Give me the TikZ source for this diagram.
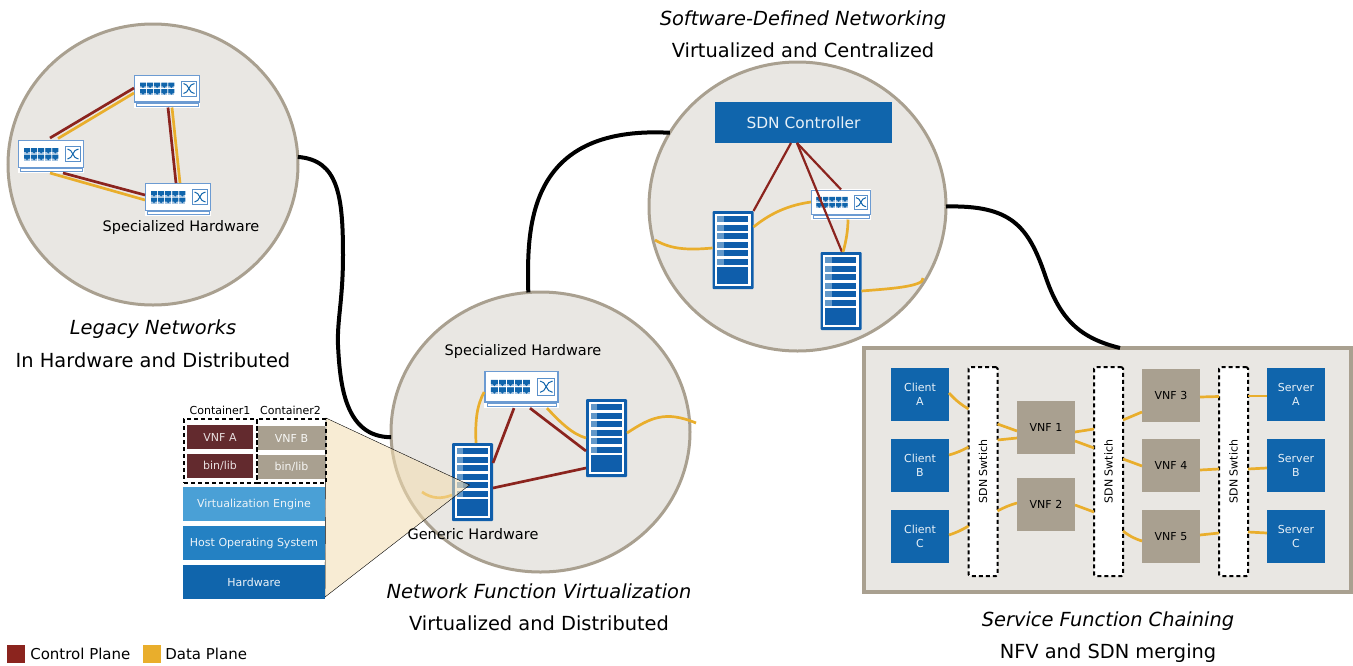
\documentclass[tikz,border=0pt]{standalone}
\usepackage{fontspec}
\setmainfont{DejaVu Sans}
\usetikzlibrary{arrows,shapes.geometric}
\definecolor{ctrlred}{HTML}{8B241E}
\definecolor{datagold}{HTML}{E9AE2C}
\definecolor{taupe}{HTML}{A9A090}
\definecolor{panel}{HTML}{E9E7E3}
\definecolor{hwblue}{HTML}{1065AC}
\definecolor{osblue}{HTML}{2481C3}
\definecolor{engblue}{HTML}{4AA0D6}
\definecolor{maroon}{HTML}{632A2E}
\definecolor{iconline}{HTML}{6C9BD2}
\definecolor{srvblue}{HTML}{0F5EAB}
\definecolor{srvlight}{HTML}{6298C9}
\definecolor{wedge}{HTML}{F3DDB0}
\newcommand{\switchicon}[4]{
  \node[switch,minimum width=#4*66pt,minimum height=#4*33pt] (#1) at (#2,#3) {};
  \begin{scope}[shift={(#2-33*#4,#3-16.5*#4)},scale=#4]
    \draw[iconline,fill=white,line width=1.2pt] (0.7,0.7) rectangle (65.3,27.5);
    \draw[iconline,fill=white,line width=1pt] (2.5,28.5) rectangle (64,31.5);
    \foreach \i in {0,...,4} {
      \fill[srvblue!35] (6+7.1*\i,8) rectangle +(6,5.8);
      \fill[srvblue!35] (6+7.1*\i,14.7) rectangle +(6,5.8);
      \fill[hwblue] (6+7.1*\i,8) -- +(6,0) -- +(6,3.8) -- +(4.5,3.8) -- +(3,5.6) -- +(1.5,3.8) -- +(0,3.8) -- cycle;
      \fill[hwblue] (6+7.1*\i,14.7) -- +(6,0) -- +(6,3.8) -- +(4.5,3.8) -- +(3,5.6) -- +(1.5,3.8) -- +(0,3.8) -- cycle;
    }
    \draw[iconline!80!hwblue,line width=1pt] (47.5,6.5) rectangle (62.5,21.5);
    \draw[hwblue,line width=1pt] (49.5,9) .. controls (55,9) and (54.5,19) .. (60.5,19);
    \draw[hwblue,line width=1pt] (49.5,19) .. controls (55,19) and (54.5,9) .. (60.5,9);
  \end{scope}
}
\newcommand{\servericon}[3]{
  \node[server] (#1) at (#2,#3) {};
  \begin{scope}[shift={(#2-20.5,#3-39)}]
    \fill[white] (2.7,2.7) rectangle (38.3,75.3);
    \foreach \i in {0,...,5} {
      \fill[srvblue] (4.7,5+8.55*\i) rectangle (35.9,11+8.55*\i);
      \fill[srvlight] (4.7,5+8.55*\i) rectangle (11,11+8.55*\i);
    }
    \fill[srvblue] (4.7,56.3) rectangle (35.9,73.3);
  \end{scope}
}
\begin{document}
\begin{tikzpicture}[x=1pt,y=-1pt,>=stealth',semithick]
  \tikzstyle{switch}=[rectangle,fill=white,inner sep=0pt,outer sep=0pt]
  \tikzstyle{server}=[rectangle,fill=srvblue,rounded corners=1pt,minimum width=41pt,
    minimum height=78pt,inner sep=0pt,outer sep=0pt]
  \tikzstyle{bubble}=[ellipse,draw=taupe,fill=panel,line width=3pt,inner sep=0pt,outer sep=0pt]
  \tikzstyle{curve}=[black,line width=4pt]
  \tikzstyle{ctrl}=[ctrlred,line width=2.7pt]
  \tikzstyle{plane}=[datagold,line width=2.7pt]
  \tikzstyle{box}=[rectangle,inner sep=0pt,outer sep=0pt,align=center,
    font=\fontsize{11}{14}\selectfont]
  \tikzstyle{client}=[box,fill=hwblue,text=white!90!hwblue,minimum width=58pt,minimum height=53pt]
  \tikzstyle{vnf}=[box,fill=taupe,text=black,minimum width=58pt,minimum height=53pt]
  \tikzstyle{sdnbar}=[rectangle,fill=white,draw=black,line width=2pt,dash pattern=on 4pt off 3pt,
    rounded corners=1.5pt,minimum width=29pt,minimum height=209pt,inner sep=0pt,outer sep=0pt]
  \tikzstyle{dock}=[rectangle,draw=black,line width=2pt,dash pattern=on 4pt off 3pt,
    minimum height=64pt,inner sep=0pt,outer sep=0pt]
  \tikzstyle{layer}=[box,text=white!92!hwblue,minimum width=142pt,minimum height=34pt,
    font=\fontsize{11}{13}\selectfont]
  \tikzstyle{title}=[inner sep=0pt,font=\fontsize{19.4}{24}\selectfont\itshape]
  \tikzstyle{subtitle}=[inner sep=0pt,font=\fontsize{19.4}{24}\selectfont]
  \tikzstyle{caption}=[inner sep=0pt,font=\fontsize{14.5}{18}\selectfont]
  \useasboundingbox (0,0) rectangle (1353,665);

  \node[bubble,minimum width=290pt,minimum height=281pt] (legacy) at (153,164.5) {};
  \node[bubble,minimum width=299pt,minimum height=280pt] (nfv) at (540.5,432) {};
  \node[bubble,minimum width=297pt,minimum height=289pt] (sdn) at (797.5,206.5) {};
  \node[rectangle,draw=taupe,fill=panel,line width=4pt,minimum width=487pt,minimum height=244pt,
    inner sep=0pt,outer sep=0pt] (sfc) at (1107.5,470) {};

  \draw[curve] (legacy.3) .. controls (338,160) and (343,195) .. (343,255)
    .. controls (343,300) and (337,320) .. (338,345)
    .. controls (340,385) and (345,437) .. (nfv.182);
  \draw[curve] (nfv.95) .. controls (527,230) and (525,125) .. (sdn.150);
  \draw[curve] (sdn.0) .. controls (1010,205) and (1028,225) .. (1045,275)
    .. controls (1060,320) and (1080,338) .. (sfc.north -| 1120,0);

  \switchicon{swA}{167}{91}{1}
  \switchicon{swB}{51}{156.5}{1}
  \switchicon{swC}{178}{199.5}{1}
  \draw[ctrl]
        (swA.west |- 0,88) edge (50,138)
        (swA.south -| 168,0) edge (swC.north -| 176,0)
        (swB.south -| 63,0) edge (swC.west |- 0,195);
  \draw[plane]
        (swA.west |- 0,93) edge (58,138.5)
        (swA.south -| 172,0) edge (swC.north -| 180,0)
        (swB.south -| 50,0) edge (swC.west |- 0,200);

  \switchicon{swN}{521.5}{389.5}{1.13}
  \servericon{srvL}{472.5}{482}
  \servericon{srvR}{606.5}{438}
  \coordinate (nfvout) at (696,423);
  \coordinate (nfvin) at (422,492);
  \draw[ctrl]
        (swN.south -| 514,0) edge (srvL.east |- 0,463)
        (swN.south -| 530,0) edge (srvR.west |- 0,451)
        (srvL.east |- 0,488) edge (srvR.west |- 0,468);
  \draw[plane] (srvL.north -| 476,0) .. controls (475,420) and (477,405) .. (swN.west |- 0,392);
  \draw[plane] (swN.south -| 547,0) .. controls (560,422) and (572,434) .. (srvR.west |- 0,438);
  \draw[plane] (srvR.east |- 0,433) .. controls (650,418) and (665,410) .. (nfvout);
  \draw[plane] (nfvin) .. controls (432,499) and (442,499) .. (srvL.west |- 0,495);

  \node[box,fill=hwblue,text=white!90!hwblue,minimum width=177pt,minimum height=41pt,
    font=\fontsize{15.4}{18}\selectfont] (ctrlbox) at (803.5,122.5) {SDN Controller};
  \switchicon{swS}{841}{204.5}{0.91}
  \servericon{srvP}{733}{250}
  \servericon{srvQ}{841}{291}
  \coordinate (sdnin) at (655,240);
  \coordinate (sdnout) at (923,278);
  \draw[ctrl,line width=2.2pt]
        (ctrlbox.south -| 791,0) edge (srvP.east |- 0,211)
        (ctrlbox.south -| 797,0) edge (srvQ.north -| 842,0)
        (ctrlbox.south -| 797,0) edge (swS.north -| 841,0);
  \draw[plane] (srvP.east |- 0,227) .. controls (772,212) and (790,205) .. (swS.west |- 0,202);
  \draw[plane] (sdnin) .. controls (672,250) and (690,250) .. (srvP.west |- 0,248);
  \draw[plane] (swS.south -| 848,0) .. controls (848,230) and (846,242) .. (srvQ.north -| 843,0);
  \draw[plane] (srvQ.east |- 0,291) .. controls (885,289) and (925,287) .. (sdnout);

  \coordinate (tip) at (469.5,485);
  \coordinate (stacktop) at (326,418);
  \coordinate (stackbot) at (325,597);
  \draw[black,thin,fill=wedge,fill opacity=0.55] (stacktop) -- (tip) -- (stackbot) -- cycle;

  \node[dock,minimum width=73pt] (dockA) at (220.5,451) {};
  \node[dock,minimum width=69pt] (dockB) at (291.5,451) {};
  \node[box,fill=maroon,text=white!85!maroon,minimum width=66pt,minimum height=24pt,
    font=\fontsize{11}{13}\selectfont] (vnfA) at (220,437) {VNF A};
  \node[box,fill=maroon,text=white!85!maroon,minimum width=66pt,minimum height=24pt,
    font=\fontsize{11}{13}\selectfont] (binA) at (220,466) {bin/lib};
  \node[box,fill=taupe,text=white!90!taupe,minimum width=67pt,minimum height=24pt,
    font=\fontsize{11}{13}\selectfont] (vnfB) at (291.5,438) {VNF B};
  \node[box,fill=taupe,text=white!90!taupe,minimum width=67pt,minimum height=24pt,
    font=\fontsize{11}{13}\selectfont] (binB) at (291.5,467) {bin/lib};
  \node[layer,fill=engblue] (engine) at (254,504) {Virtualization Engine};
  \node[layer,fill=osblue] (hostos) at (254,543) {Host Operating System};
  \node[layer,fill=hwblue] (metal) at (254,582) {Hardware};
  \node[inner sep=0pt,font=\fontsize{11}{13}\selectfont] (nameA) at (220,410) {Container1};
  \node[inner sep=0pt,font=\fontsize{11}{13}\selectfont] (nameB) at (290.5,410) {Container2};

  \node[client] (clientA) at (920,394.5) {Client\\A};
  \node[client] (clientB) at (920,465.5) {Client\\B};
  \node[client] (clientC) at (920,536.5) {Client\\C};
  \node[vnf] (vnf1) at (1046,427.5) {VNF 1};
  \node[vnf] (vnf2) at (1046,504.5) {VNF 2};
  \node[vnf] (vnf3) at (1171,395.5) {VNF 3};
  \node[vnf] (vnf4) at (1171,465.5) {VNF 4};
  \node[vnf] (vnf5) at (1171,536.5) {VNF 5};
  \node[client] (serverA) at (1296,394.5) {Server\\A};
  \node[client] (serverB) at (1296,465.5) {Server\\B};
  \node[client] (serverC) at (1296,536.5) {Server\\C};
  \node[sdnbar] (bar1) at (983,471.5) {};
  \node[sdnbar] (bar2) at (1108.5,471.5) {};
  \node[sdnbar] (bar3) at (1233.5,471.5) {};
  \node[box,rotate=90] (bar1text) at (bar1) {SDN Swtich};
  \node[box,rotate=90] (bar2text) at (bar2) {SDN Swtich};
  \node[box,rotate=90] (bar3text) at (bar3) {SDN Swtich};
  \draw[plane]
        (clientA.east |- 0,393) edge[bend right=8] (bar1.west |- 0,409)
        (clientB.east |- 0,455) edge[bend right=6] (bar1.west |- 0,447)
        (clientC.east |- 0,535) edge[bend right=6] (bar1.west |- 0,526)
        (bar1.east |- 0,424) edge (vnf1.west |- 0,431)
        (bar1.east |- 0,440) edge (vnf1.west |- 0,438)
        (bar1.east |- 0,511) edge[bend left=6] (vnf2.west |- 0,503)
        (vnf1.east |- 0,432) edge (bar2.west |- 0,429)
        (vnf1.east |- 0,441) edge (bar2.west |- 0,448)
        (vnf2.east |- 0,505) edge (bar2.west |- 0,512)
        (bar2.east |- 0,420) edge (vnf3.west |- 0,412)
        (bar2.east |- 0,459) edge (vnf4.west |- 0,466)
        (bar2.east |- 0,531) edge[bend right=10] (vnf5.west |- 0,541)
        (vnf3.east |- 0,397) edge (bar3.west |- 0,396.5)
        (vnf4.east |- 0,470) edge (bar3.west |- 0,469)
        (vnf5.east |- 0,535) edge (bar3.west |- 0,533)
        (bar3.east |- 0,396) edge (serverA.west |- 0,396)
        (bar3.east |- 0,469) edge (serverB.west |- 0,468)
        (bar3.east |- 0,532) edge (serverC.west |- 0,533);

  \node[caption] (hwtextA) at (181,227.5) {Specialized Hardware};
  \node[caption] (hwtextB) at (523,351.5) {Specialized Hardware};
  \node[caption] (gentext) at (473,534) {Generic Hardware};
  \node[title] (t1) at (153,329) {Legacy Networks};
  \node[subtitle] (s1) at (153,360) {In Hardware and Distributed};
  \node[title] (t2) at (803,20) {Software-Defined Networking};
  \node[subtitle] (s2) at (803,50) {Virtualized and Centralized};
  \node[title] (t3) at (539,591) {Network Function Virtualization};
  \node[subtitle] (s3) at (539,623) {Virtualized and Distributed};
  \node[title] (t4) at (1108,621) {Service Function Chaining};
  \node[subtitle] (s4) at (1108,653) {NFV and SDN merging};

  \node[fill=ctrlred,minimum size=18pt,inner sep=0pt] (keyctrl) at (16,654) {};
  \node[caption,font=\fontsize{15}{18}\selectfont,anchor=west] (keyctrltext) at (30,654) {Control Plane};
  \node[fill=datagold,minimum size=18pt,inner sep=0pt] (keydata) at (151.5,654) {};
  \node[caption,font=\fontsize{15}{18}\selectfont,anchor=west] (keydatatext) at (165,654) {Data Plane};
\end{tikzpicture}
\end{document}
